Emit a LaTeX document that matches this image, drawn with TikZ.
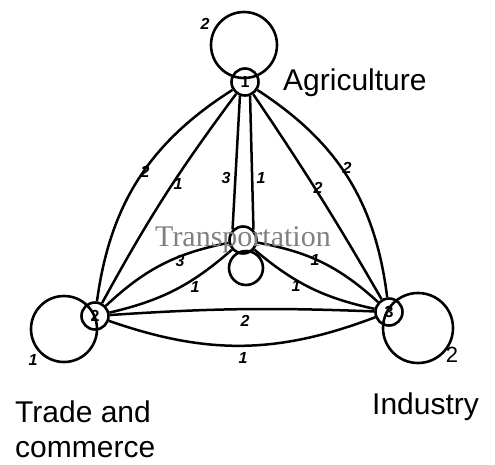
\documentclass[tikz,border=0pt]{standalone}
\usepackage{fontspec}
\setmainfont{Liberation Sans}
\newfontfamily\trfont{Liberation Serif}
\begin{document}
\begin{tikzpicture}[x=1pt,y=1pt,
  vert/.style={circle, draw, line width=2.6pt, minimum size=27pt, inner sep=0pt, font=\bfseries\fontsize{16}{16}\selectfont},
  loopc/.style={circle, draw, line width=2.6pt, inner sep=0pt},
  conn/.style={line width=2.5pt},
  lab/.style={font=\bfseries\itshape\fontsize{16}{16}\selectfont, inner sep=0pt},
  big/.style={font=\fontsize{30}{36}\selectfont, inner sep=0pt}
]
\useasboundingbox (0,0) rectangle (495,-464);
% vertices
\node[vert] (n1) at (245,-82) {1};
\node[vert] (n2) at (95,-316) {2};
\node[vert] (n3) at (389,-312) {3};
\node[vert] (n4) at (243,-240) {};
% self loops
\node[loopc, minimum size=66pt] (l1) at (244,-45) {};
\node[loopc, minimum size=66pt] (l2) at (64,-329) {};
\node[loopc, minimum size=70pt] (l3) at (418,-328) {};
\node[loopc, minimum size=34pt] (l4) at (246,-268) {};
% connectors
\draw[conn] (n1) to[bend right=25] (n2);
\draw[conn] (n1) to[bend right=4] (n2);
\draw[conn] (n1) to[bend left=25] (n3);
\draw[conn] (n1) to[bend left=2] (n3);
\draw[conn] (n1.-110) -- (n4.135);
\draw[conn] (n1.-70) -- (n4.45);
\draw[conn] (n2) to[bend left=16] (n4);
\draw[conn] (n2) to[bend right=14] (n4);
\draw[conn] (n3) to[bend right=16] (n4);
\draw[conn] (n3) to[bend left=14] (n4);
\draw[conn] (n2) to[bend left=3] (n3);
\draw[conn] (n2) to[bend right=20] (n3);
% labels
\node[lab] (a1) at (205,-24) {2};
\node[lab] (a2) at (33,-360) {1};
\node[font=\fontsize{22}{22}\selectfont, inner sep=0pt] (a3) at (452,-355) {2};
\node[lab] (b1) at (145,-172) {2};
\node[lab] (b2) at (178,-184) {1};
\node[lab] (b3) at (226,-178) {3};
\node[lab] (b4) at (261,-178) {1};
\node[lab] (b5) at (318,-188) {2};
\node[lab] (b6) at (347,-168) {2};
\node[lab] (b7) at (180,-261) {3};
\node[lab] (b8) at (195,-287) {1};
\node[lab] (b9) at (315,-260) {1};
\node[lab] (b10) at (296,-286) {1};
\node[lab] (b11) at (245,-321) {2};
\node[lab] (b12) at (243,-358) {1};
% names
\node[big, anchor=base west] (t1) at (283,-90) {Agriculture};
\node[big, anchor=base west] (t2) at (15,-422) {Trade and};
\node[big, anchor=base west] (t3) at (15,-457) {commerce};
\node[big, anchor=base west] (t4) at (372,-414) {Industry};
\node[big, anchor=base, text=gray, font=\trfont\fontsize{30}{36}\selectfont] (t5) at (243,-246) {Transportation};
\end{tikzpicture}
\end{document}
